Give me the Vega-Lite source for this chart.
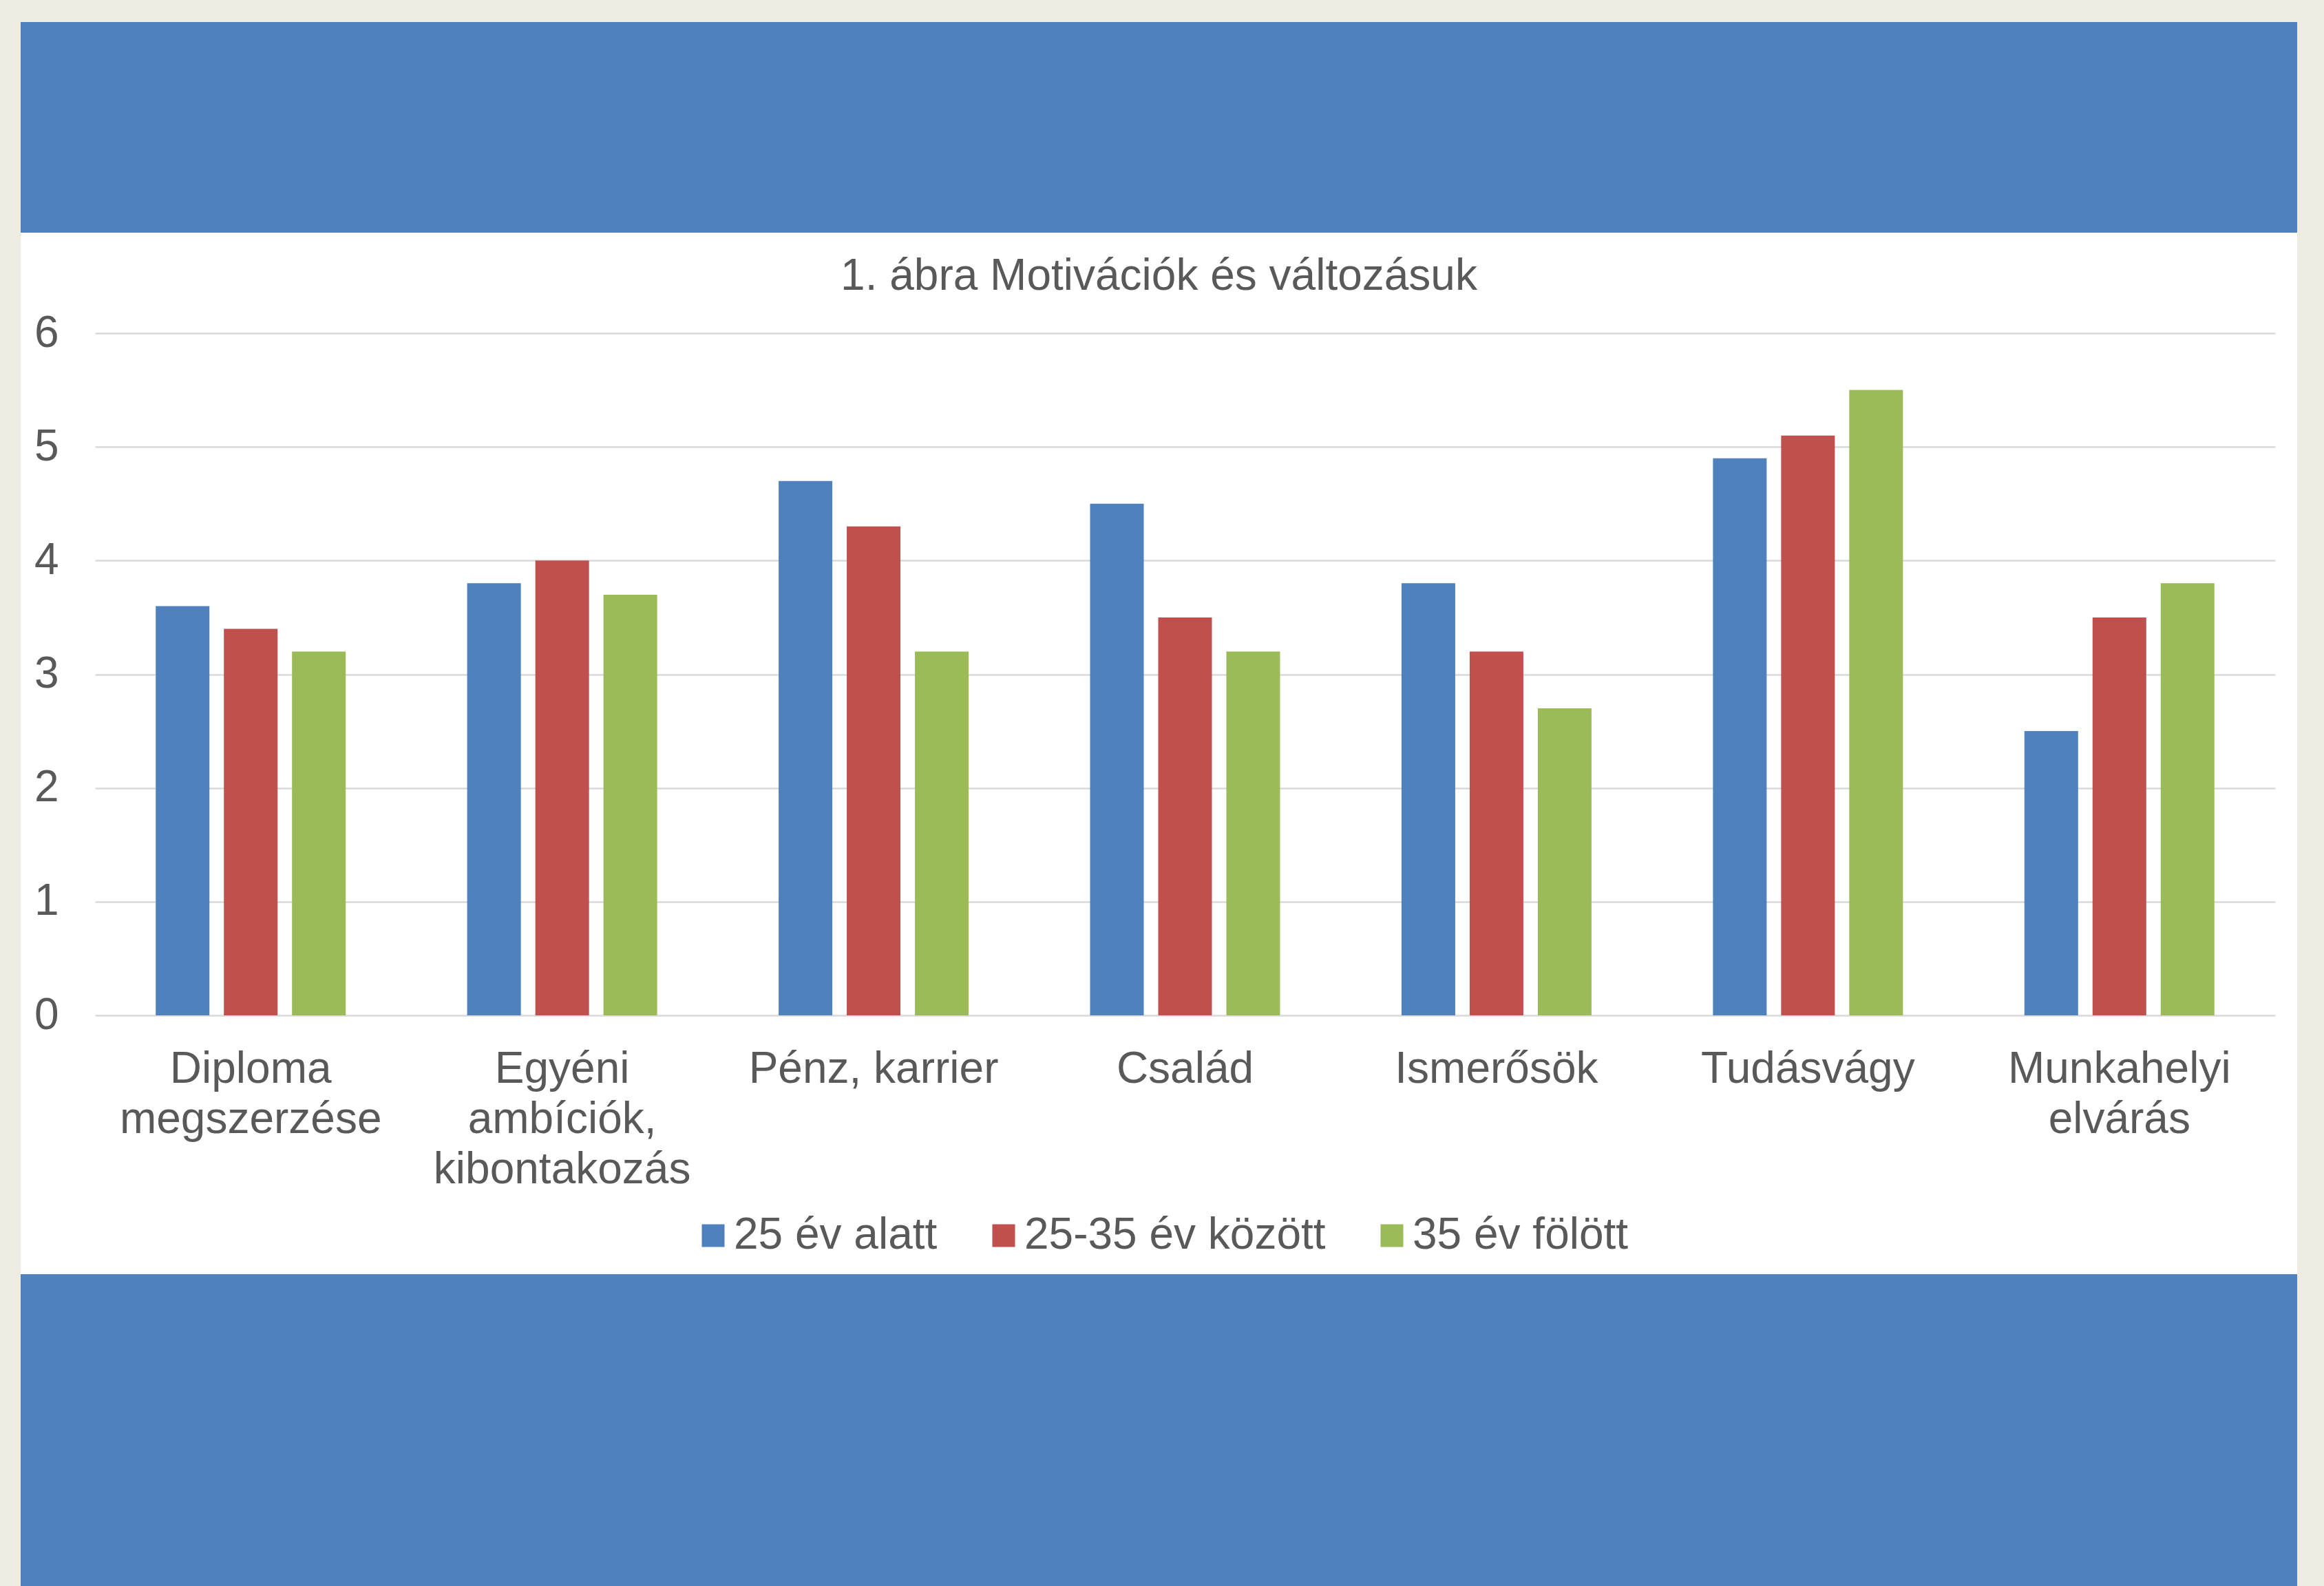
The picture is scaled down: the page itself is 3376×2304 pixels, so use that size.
{
  "$schema": "https://vega.github.io/schema/vega-lite/v6.json",
  "background": "#EEEBE0",
  "padding": {"left": 30, "top": 32, "right": 39, "bottom": 0},
  "spacing": 0,
  "config": {
    "font": "Liberation Sans",
    "concat": {"spacing": 0}
  },
  "vconcat": [
    {
      "width": 3307,
      "height": 306,
      "view": {"fill": "#4F81BD", "stroke": null},
      "data": {"values": [{"t": ""}]},
      "mark": {"type": "text"},
      "encoding": {"text": {"field": "t", "type": "nominal"}}
    },
    {
      "width": 3307,
      "height": 1513,
      "view": {"fill": "#FFFFFF", "stroke": null},
      "title": {
        "text": "1. ábra Motivációk és változásuk",
        "offset": -147,
        "fontSize": 64,
        "font": "Liberation Sans",
        "fontWeight": "normal",
        "color": "#595959",
        "anchor": "middle",
        "baseline": "alphabetic"
      },
      "data": {
        "values": [
          {"motivacio": "Diploma megszerzése", "korcsoport": "25 év alatt", "ertek": 3.6},
          {"motivacio": "Diploma megszerzése", "korcsoport": "25-35 év között", "ertek": 3.4},
          {"motivacio": "Diploma megszerzése", "korcsoport": "35 év fölött", "ertek": 3.2},
          {"motivacio": "Egyéni ambíciók, kibontakozás", "korcsoport": "25 év alatt", "ertek": 3.8},
          {"motivacio": "Egyéni ambíciók, kibontakozás", "korcsoport": "25-35 év között", "ertek": 4.0},
          {"motivacio": "Egyéni ambíciók, kibontakozás", "korcsoport": "35 év fölött", "ertek": 3.7},
          {"motivacio": "Pénz, karrier", "korcsoport": "25 év alatt", "ertek": 4.7},
          {"motivacio": "Pénz, karrier", "korcsoport": "25-35 év között", "ertek": 4.3},
          {"motivacio": "Pénz, karrier", "korcsoport": "35 év fölött", "ertek": 3.2},
          {"motivacio": "Család", "korcsoport": "25 év alatt", "ertek": 4.5},
          {"motivacio": "Család", "korcsoport": "25-35 év között", "ertek": 3.5},
          {"motivacio": "Család", "korcsoport": "35 év fölött", "ertek": 3.2},
          {"motivacio": "Ismerősök", "korcsoport": "25 év alatt", "ertek": 3.8},
          {"motivacio": "Ismerősök", "korcsoport": "25-35 év között", "ertek": 3.2},
          {"motivacio": "Ismerősök", "korcsoport": "35 év fölött", "ertek": 2.7},
          {"motivacio": "Tudásvágy", "korcsoport": "25 év alatt", "ertek": 4.9},
          {"motivacio": "Tudásvágy", "korcsoport": "25-35 év között", "ertek": 5.1},
          {"motivacio": "Tudásvágy", "korcsoport": "35 év fölött", "ertek": 5.5},
          {"motivacio": "Munkahelyi elvárás", "korcsoport": "25 év alatt", "ertek": 2.5},
          {"motivacio": "Munkahelyi elvárás", "korcsoport": "25-35 év között", "ertek": 3.5},
          {"motivacio": "Munkahelyi elvárás", "korcsoport": "35 év fölött", "ertek": 3.8}
        ]
      },
      "mark": {"type": "bar"},
      "encoding": {
        "x": {
          "field": "motivacio",
          "type": "nominal",
          "sort": null,
          "scale": {"range": [108, 3275], "paddingInner": 0.39, "paddingOuter": 0.195},
          "axis": {
            "title": null,
            "orient": "bottom",
            "offset": -376,
            "labelExpr": "datum.label == 'Pénz, karrier' ? datum.label : split(datum.label, ' ')",
            "labelBaseline": "alphabetic",
            "labelPadding": 97,
            "labelFontSize": 64,
            "labelFont": "Liberation Sans",
            "labelColor": "#595959",
            "labelLineHeight": 73,
            "labelAngle": 0,
            "labelLimit": 0,
            "labelOverlap": false,
            "ticks": false,
            "tickSize": 0,
            "domain": false,
            "grid": false
          }
        },
        "xOffset": {
          "field": "korcsoport",
          "type": "nominal",
          "sort": ["25 év alatt", "25-35 év között", "35 év fölött"],
          "scale": {"paddingInner": 0.212, "paddingOuter": 0}
        },
        "y": {
          "field": "ertek",
          "type": "quantitative",
          "scale": {"domain": [0, 6], "range": [1137, 146], "nice": false, "zero": true},
          "axis": {
            "title": null,
            "values": [0, 1, 2, 3, 4, 5, 6],
            "offset": -55,
            "labelPadding": 0,
            "labelAlign": "right",
            "labelBaseline": "middle",
            "labelFontSize": 64,
            "labelFont": "Liberation Sans",
            "labelColor": "#595959",
            "ticks": false,
            "tickSize": 0,
            "domain": false,
            "grid": true,
            "gridColor": "#D9D9D9",
            "gridWidth": 2.5
          }
        },
        "color": {
          "field": "korcsoport",
          "type": "nominal",
          "scale": {
            "domain": ["25 év alatt", "25-35 év között", "35 év fölött"],
            "range": ["#4F81BD", "#C0504D", "#9BBB59"]
          },
          "legend": {
            "title": null,
            "orient": "none",
            "legendX": 974,
            "legendY": 1731,
            "direction": "horizontal",
            "symbolType": "square",
            "symbolSize": 1089,
            "symbolStrokeWidth": 0,
            "labelFontSize": 64,
            "labelFont": "Liberation Sans",
            "labelColor": "#595959",
            "labelOffset": -2,
            "columnPadding": 64,
            "padding": 0,
            "labelLimit": 0
          }
        }
      }
    },
    {
      "width": 3307,
      "height": 453,
      "view": {"fill": "#4F81BD", "stroke": null},
      "data": {"values": [{"t": ""}]},
      "mark": {"type": "text"},
      "encoding": {"text": {"field": "t", "type": "nominal"}}
    }
  ]
}
